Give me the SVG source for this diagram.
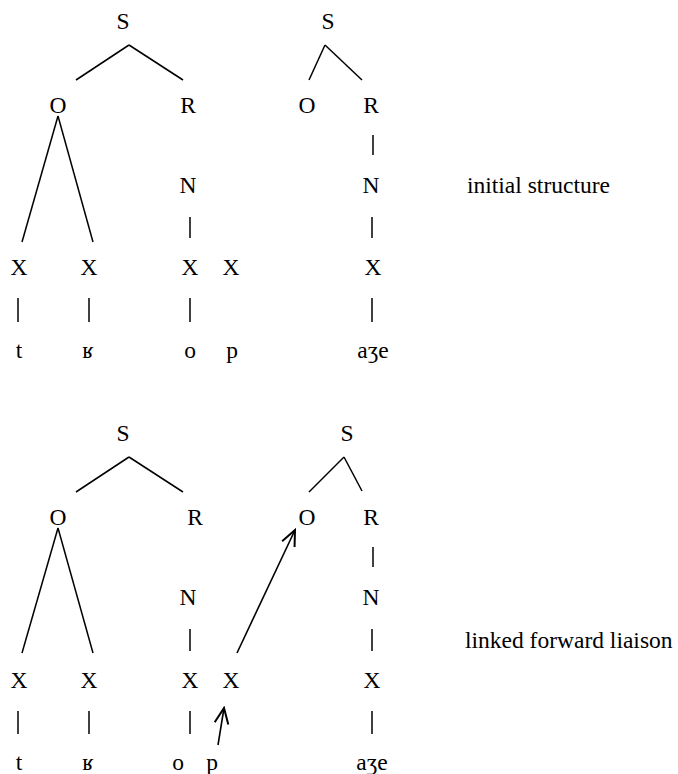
<svg xmlns="http://www.w3.org/2000/svg" width="678" height="774" viewBox="0 0 678 774">
  <style>
    text { font-family: 'Liberation Serif', 'DejaVu Serif', serif; font-size: 23.5px; fill: #000; }
    .n { text-anchor: middle; }
    .e { fill: none; stroke: #000; stroke-width: 1.5; stroke-linecap: butt; }
    .a { fill: none; stroke: #000; stroke-width: 1.6; marker-end: url(#head); }
  </style>
  <defs>
    <marker id="head" markerUnits="userSpaceOnUse" markerWidth="20" markerHeight="20" viewBox="-14 -8 16 16" refX="0" refY="0" orient="auto">
      <path d="M-12.5,-5.5 L0,0 L-12.5,5.5" fill="none" stroke="#000" stroke-width="1.6"/>
    </marker>
  </defs>

  <!-- connectors -->
  <g id="connectors">
    <!-- initial structure -->
    <line class="e" x1="129" y1="45" x2="76" y2="80"/>
    <line class="e" x1="129" y1="45" x2="183" y2="80"/>
    <line class="e" x1="325" y1="45" x2="309" y2="80"/>
    <line class="e" x1="325" y1="45" x2="362" y2="80"/>
    <line class="e" x1="58" y1="116" x2="22" y2="242"/>
    <line class="e" x1="58" y1="116" x2="93" y2="242"/>
    <line class="e" x1="373" y1="135" x2="373" y2="155"/>
    <line class="e" x1="190" y1="217" x2="190" y2="238"/>
    <line class="e" x1="372" y1="217" x2="372" y2="238"/>
    <line class="e" x1="18" y1="298" x2="18" y2="322"/>
    <line class="e" x1="89" y1="298" x2="89" y2="322"/>
    <line class="e" x1="190" y1="298" x2="190" y2="322"/>
    <line class="e" x1="372" y1="298" x2="372" y2="322"/>

    <!-- linked forward liaison -->
    <line class="e" x1="129" y1="457" x2="76" y2="492"/>
    <line class="e" x1="129" y1="457" x2="183" y2="492"/>
    <line class="e" x1="344" y1="457" x2="309" y2="492"/>
    <line class="e" x1="344" y1="457" x2="362" y2="491"/>
    <line class="e" x1="58" y1="528" x2="22" y2="653"/>
    <line class="e" x1="58" y1="528" x2="93" y2="653"/>
    <line class="e" x1="373" y1="547" x2="373" y2="567"/>
    <line class="e" x1="190" y1="629" x2="190" y2="651"/>
    <line class="e" x1="372" y1="629" x2="372" y2="651"/>
    <line class="e" x1="18" y1="711" x2="18" y2="734"/>
    <line class="e" x1="89" y1="711" x2="89" y2="734"/>
    <line class="e" x1="190" y1="711" x2="190" y2="734"/>
    <line class="e" x1="372" y1="711" x2="372" y2="734"/>
    <line class="a" x1="237" y1="653" x2="295" y2="530"/>
    <line class="a" x1="218" y1="745" x2="224" y2="708"/>
  </g>

  <!-- initial structure -->
  <g id="top-S1"><text class="n" x="123" y="29">S</text></g>
  <g id="top-S2"><text class="n" x="328" y="29">S</text></g>
  <g id="top-O1"><text class="n" x="58" y="113">O</text></g>
  <g id="top-R1"><text class="n" x="188" y="113">R</text></g>
  <g id="top-O2"><text class="n" x="307" y="113">O</text></g>
  <g id="top-R2"><text class="n" x="371" y="113">R</text></g>
  <g id="top-N1"><text class="n" x="188" y="193">N</text></g>
  <g id="top-N2"><text class="n" x="371" y="193">N</text></g>
  <g id="top-X1"><text class="n" x="19" y="275">X</text></g>
  <g id="top-X2"><text class="n" x="89" y="275">X</text></g>
  <g id="top-X3"><text class="n" x="190" y="275">X</text></g>
  <g id="top-X4"><text class="n" x="231" y="275">X</text></g>
  <g id="top-X5"><text class="n" x="373" y="275">X</text></g>
  <g id="top-t"><text class="n" x="19" y="358">t</text></g>
  <g id="top-r"><text class="n" x="88" y="358">ʁ</text></g>
  <g id="top-o"><text class="n" x="190" y="358">o</text></g>
  <g id="top-p"><text class="n" x="232" y="358">p</text></g>
  <g id="top-aze"><text class="n" x="373" y="358">aʒe</text></g>
  <g id="label-initial"><text x="467" y="193">initial structure</text></g>

  <!-- linked forward liaison -->
  <g id="bot-S1"><text class="n" x="123" y="441">S</text></g>
  <g id="bot-S2"><text class="n" x="347" y="441">S</text></g>
  <g id="bot-O1"><text class="n" x="58" y="525">O</text></g>
  <g id="bot-R1"><text class="n" x="195" y="525">R</text></g>
  <g id="bot-O2"><text class="n" x="307" y="525">O</text></g>
  <g id="bot-R2"><text class="n" x="371" y="525">R</text></g>
  <g id="bot-N1"><text class="n" x="188" y="605">N</text></g>
  <g id="bot-N2"><text class="n" x="371" y="605">N</text></g>
  <g id="bot-X1"><text class="n" x="19" y="688">X</text></g>
  <g id="bot-X2"><text class="n" x="89" y="688">X</text></g>
  <g id="bot-X3"><text class="n" x="190" y="688">X</text></g>
  <g id="bot-X4"><text class="n" x="231" y="688">X</text></g>
  <g id="bot-X5"><text class="n" x="372" y="688">X</text></g>
  <g id="bot-t"><text class="n" x="19" y="770">t</text></g>
  <g id="bot-r"><text class="n" x="88" y="770">ʁ</text></g>
  <g id="bot-o"><text class="n" x="178" y="770">o</text></g>
  <g id="bot-p"><text class="n" x="212" y="770">p</text></g>
  <g id="bot-aze"><text class="n" x="372" y="770">aʒe</text></g>
  <g id="label-linked"><text x="465" y="648">linked forward liaison</text></g>
</svg>
